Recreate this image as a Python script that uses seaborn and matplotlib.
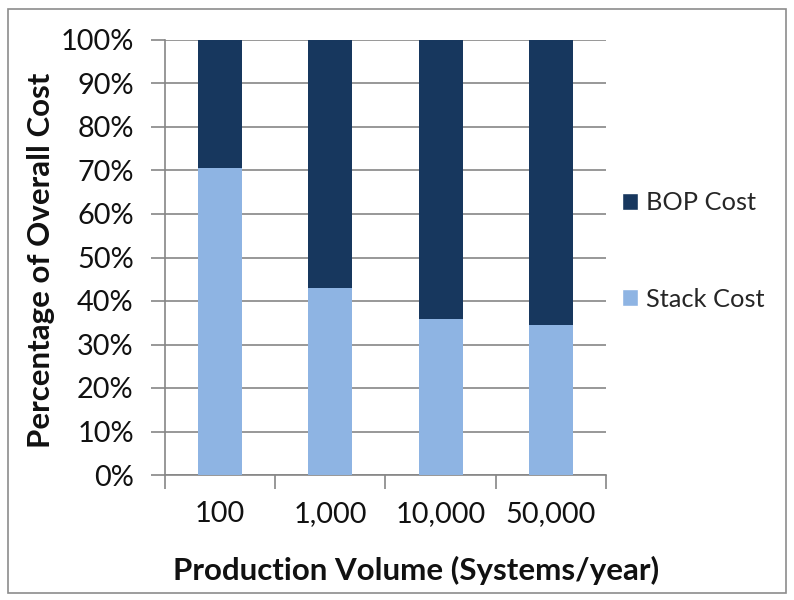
import matplotlib
matplotlib.use("Agg")
import matplotlib.pyplot as plt
import seaborn as sns
import pandas as pd
from matplotlib.patches import Patch, Rectangle

# Production volumes and cost shares (percent of overall cost)
volumes = ["100", "1,000", "10,000", "50,000"]
stack_cost = [70.5, 43.1, 35.9, 34.5]
bop_cost = [29.5, 56.9, 64.1, 65.5]
y_ticks = [0, 10, 20, 30, 40, 50, 60, 70, 80, 90, 100]

dark = "#17375E"
light = "#8EB4E3"
grid_c = "#868686"
text_c = "#111111"

sns.set_theme(style="white")
plt.rcParams["font.family"] = ["Lato", "DejaVu Sans"]

df = pd.DataFrame({"volume": volumes, "stack": stack_cost, "bop": bop_cost})
df["total"] = df["stack"] + df["bop"]

fig = plt.figure(figsize=(7.94, 6.0), dpi=100)
ax = fig.add_axes([165 / 794, 1 - 475 / 600, (606 - 165) / 794, (475 - 40) / 600])

# Stacked bars: total (BOP on top) drawn first, stack share over it
sns.barplot(data=df, x="volume", y="total", color=dark, width=0.4,
            saturation=1, linewidth=0, ax=ax, zorder=3)
sns.barplot(data=df, x="volume", y="stack", color=light, width=0.4,
            saturation=1, linewidth=0, ax=ax, zorder=3)

ax.set_xlim(-0.5, len(volumes) - 0.5)
ax.set_ylim(0, 100)
ax.set_yticks(y_ticks)
ax.set_yticklabels([f"{t}%" for t in y_ticks], fontsize=20.8, color=text_c)
ax.yaxis.grid(True, color=grid_c, linewidth=1.2, zorder=0)
ax.set_axisbelow(True)

# Category ticks sit between bars; labels centered under bars
ax.set_xticks([i + 0.5 for i in range(-1, len(volumes))], minor=False)
ax.set_xticklabels([])
ax.set_xticks(range(len(volumes)), minor=True)
ax.set_xticklabels(volumes, minor=True, fontsize=20.8, color=text_c)
ax.tick_params(axis="x", which="major", length=10, width=1.2, color=grid_c,
               direction="out", bottom=True)
ax.tick_params(axis="x", which="minor", length=0, pad=19)
ax.tick_params(axis="y", length=10, width=1.2, color=grid_c, direction="out",
               left=True, pad=12.5)

for side in ["top", "right"]:
    ax.spines[side].set_visible(False)
for side in ["left", "bottom"]:
    ax.spines[side].set_color(grid_c)
    ax.spines[side].set_linewidth(1.2)

ax.set_xlabel("Production Volume (Systems/year)", fontsize=22.5,
              fontweight="bold", color=text_c)
ax.set_ylabel("Percentage of Overall Cost", fontsize=22.5,
              fontweight="bold", color=text_c)
ax.xaxis.set_label_coords((416 - 165) / 441, (475 - 570) / 435)
ax.xaxis.label.set_va("center")
ax.yaxis.set_label_coords((41 - 165) / 441, (475 - 260) / 435)
ax.yaxis.label.set_va("center")
ax.yaxis.label.set_ha("center")

handles = [Patch(facecolor=dark, label="BOP Cost"),
           Patch(facecolor=light, label="Stack Cost")]
fig.legend(handles=handles, loc="center left",
           bbox_to_anchor=(599 / 794, 1 - 251 / 600), frameon=False,
           fontsize=18.3, handlelength=0.65, handleheight=0.65,
           handletextpad=0.3, labelspacing=2.9)

# Outer chart border
fig.patches.append(Rectangle((8 / 794, 7 / 600), 778 / 794, 584 / 600,
                             transform=fig.transFigure, fill=False,
                             edgecolor="#8c8c8c", linewidth=1.2))

fig.savefig("out.png", dpi=100)
